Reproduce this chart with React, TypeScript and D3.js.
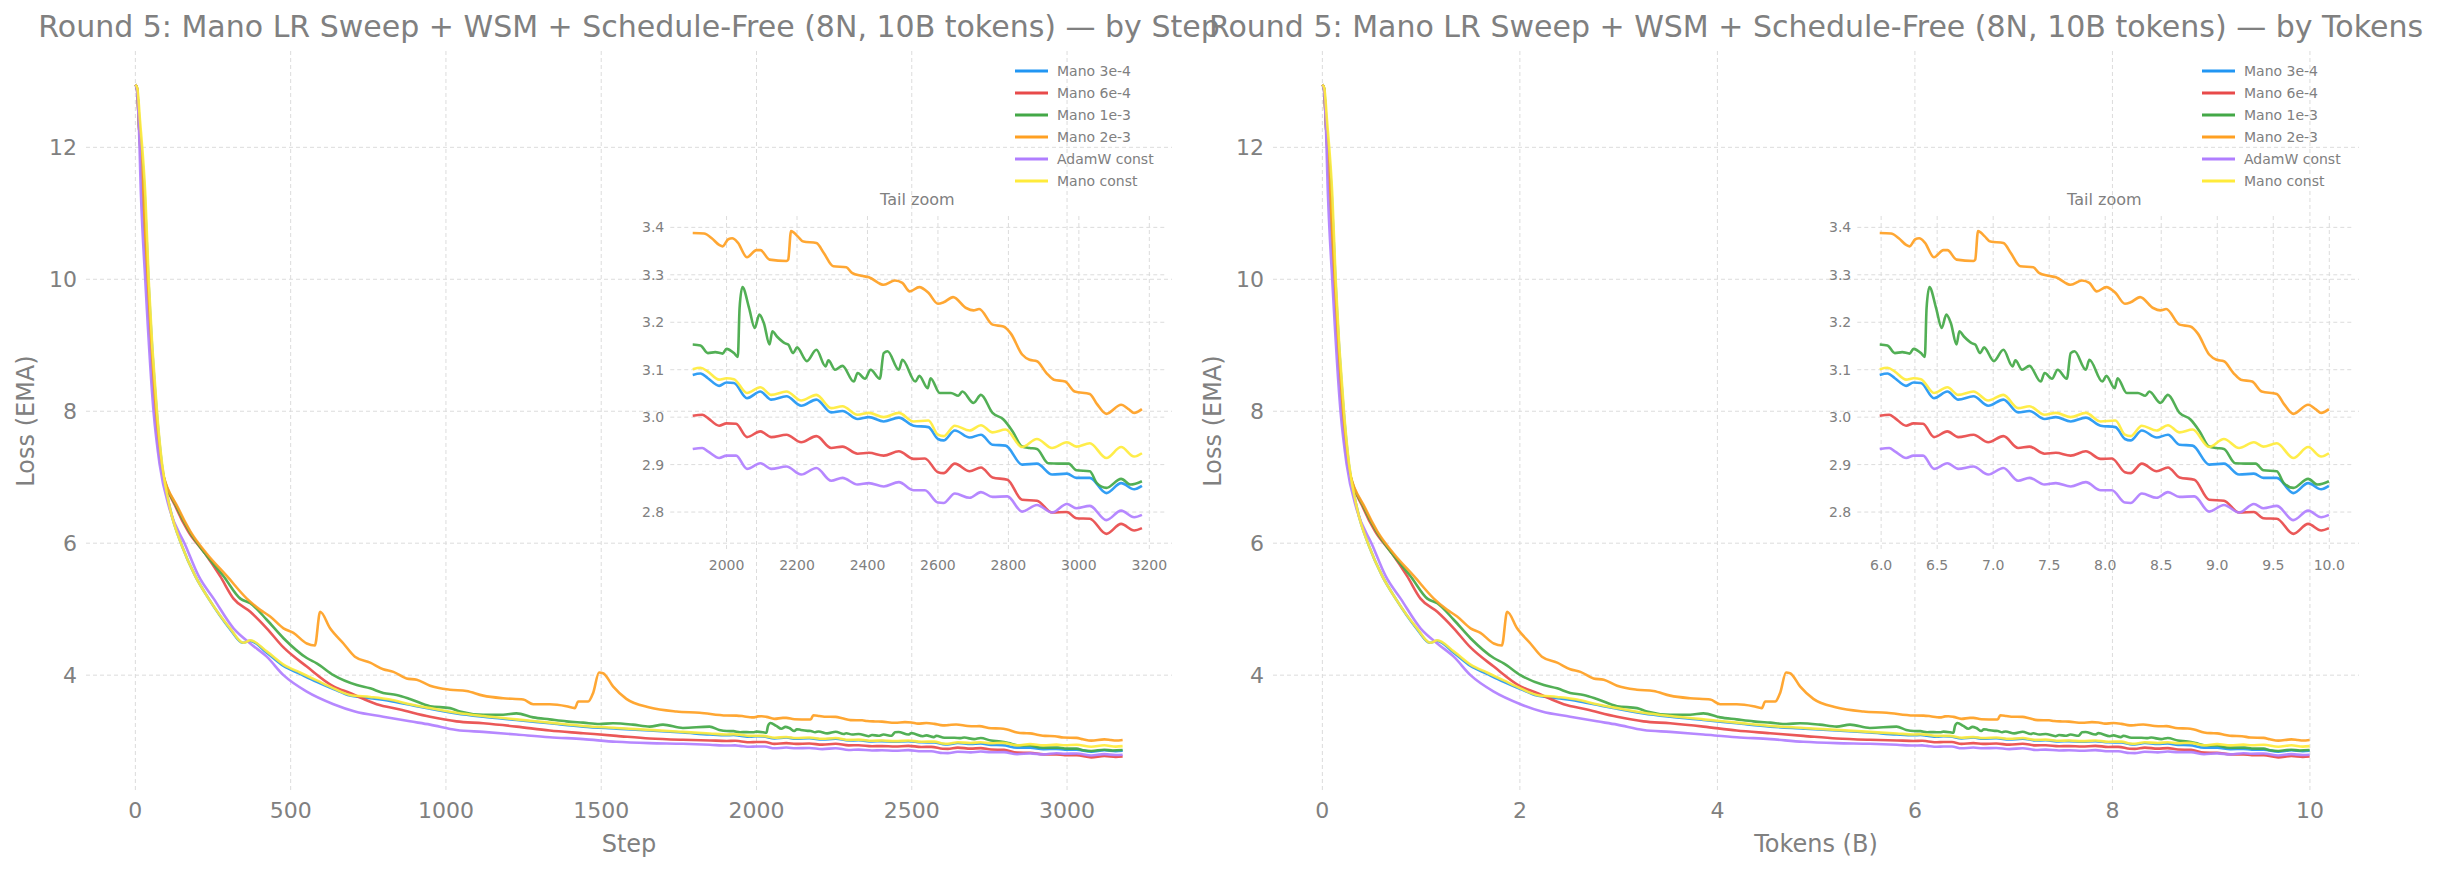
import React from 'react';
import * as d3 from 'd3';

const WIDTH = 2437;
const HEIGHT = 870;
const TOKENS_PER_STEP_B = 10 / 3180; // billions of tokens per optimizer step
const TAIL_START = 1900;

const SERIES_NAMES = ['Mano 3e-4', 'Mano 6e-4', 'Mano 1e-3', 'Mano 2e-3', 'AdamW const', 'Mano const'];
const SERIES_COLORS = ['#2196F3', '#E84A4A', '#43A847', '#FFA022', '#B07EFF', '#FFEB3B'];

// [step, loss EMA]
const mano3e4: [number, number][] = [
  [0, 12.95], [5, 12.9], [14, 12.3], [30, 11.28], [42, 9.98], [69, 7.97], [85, 7.2], [112, 6.52],
  [150, 5.96], [193, 5.5], [236, 5.16], [303, 4.71], [346, 4.49], [370, 4.52], [423, 4.34], [477, 4.14],
  [530, 4.02], [584, 3.9], [638, 3.79], [691, 3.69], [756, 3.65], [820, 3.61], [884, 3.55], [949, 3.49],
  [1034, 3.42], [1120, 3.37], [1227, 3.32], [1334, 3.27], [1442, 3.22], [1549, 3.19], [1656, 3.16], [1763, 3.13],
  [1850, 3.1],
  [1904, 3.089], [1926, 3.092], [1947, 3.082], [1979, 3.066], [2000, 3.073], [2021, 3.072], [2058, 3.04],
  [2096, 3.054], [2127, 3.037], [2170, 3.044], [2212, 3.024], [2255, 3.037], [2297, 3.01], [2329, 3.013],
  [2372, 2.996], [2404, 3.0], [2446, 2.991], [2489, 2.999], [2531, 2.982], [2573, 2.979], [2600, 2.954],
  [2616, 2.951], [2648, 2.972], [2690, 2.957], [2722, 2.963], [2755, 2.942], [2792, 2.94], [2839, 2.9],
  [2881, 2.902], [2924, 2.879], [2966, 2.881], [2993, 2.872], [3031, 2.872], [3078, 2.84], [3120, 2.861],
  [3157, 2.848], [3179, 2.855],
];

const mano6e4: [number, number][] = [
  [0, 12.95], [5, 12.9], [12, 12.3], [25, 11.28], [38, 9.98], [64, 7.97], [82, 7.2], [133, 6.52],
  [170, 6.18], [225, 5.84], [273, 5.5], [316, 5.16], [370, 4.96], [423, 4.71], [477, 4.42], [552, 4.13],
  [638, 3.83], [691, 3.73], [777, 3.56], [852, 3.48], [949, 3.37], [1034, 3.3], [1120, 3.27], [1227, 3.22],
  [1334, 3.16], [1442, 3.12], [1549, 3.08], [1656, 3.04], [1763, 3.02], [1850, 3.01],
  [1904, 3.003], [1931, 3.005], [1947, 2.998], [1979, 2.982], [2000, 2.987], [2027, 2.986], [2058, 2.958],
  [2096, 2.97], [2127, 2.958], [2170, 2.963], [2212, 2.947], [2255, 2.96], [2297, 2.935], [2329, 2.938],
  [2372, 2.923], [2404, 2.925], [2446, 2.919], [2489, 2.928], [2531, 2.912], [2563, 2.913], [2600, 2.884],
  [2616, 2.882], [2648, 2.902], [2690, 2.886], [2722, 2.894], [2755, 2.873], [2797, 2.868], [2839, 2.826],
  [2881, 2.824], [2924, 2.799], [2966, 2.8], [2993, 2.787], [3031, 2.786], [3078, 2.754], [3120, 2.775],
  [3157, 2.761], [3179, 2.766],
];

const mano1e3: [number, number][] = [
  [0, 12.95], [5, 12.9], [12, 12.3], [25, 11.28], [38, 9.98], [64, 7.97], [82, 7.2], [136, 6.52],
  [174, 6.18], [225, 5.84], [284, 5.5], [338, 5.16], [370, 5.09], [423, 4.84], [477, 4.56], [552, 4.26],
  [584, 4.18], [638, 4.0], [713, 3.85], [756, 3.8], [798, 3.73], [841, 3.7], [884, 3.64], [949, 3.53],
  [1013, 3.5], [1045, 3.45], [1120, 3.4], [1184, 3.4], [1227, 3.42], [1281, 3.36], [1334, 3.33],
  [1388, 3.3], [1442, 3.28], [1494, 3.26], [1538, 3.27], [1602, 3.25], [1656, 3.22], [1699, 3.25],
  [1763, 3.2], [1849, 3.22], [1880, 3.17],
  [1904, 3.153], [1926, 3.151], [1947, 3.135], [1968, 3.137], [1989, 3.134], [2000, 3.144], [2021, 3.135],
  [2032, 3.127], [2037, 3.23], [2045, 3.274], [2064, 3.23], [2080, 3.188], [2093, 3.216], [2106, 3.198],
  [2122, 3.153], [2130, 3.181], [2143, 3.17], [2165, 3.156], [2175, 3.153], [2189, 3.135], [2200, 3.147],
  [2228, 3.118], [2255, 3.142], [2281, 3.107], [2289, 3.12], [2308, 3.1], [2329, 3.108], [2361, 3.075],
  [2372, 3.093], [2393, 3.081], [2409, 3.1], [2435, 3.081], [2446, 3.135], [2457, 3.139], [2489, 3.1],
  [2499, 3.121], [2536, 3.075], [2547, 3.087], [2571, 3.061], [2579, 3.082], [2605, 3.051], [2637, 3.051],
  [2658, 3.045], [2669, 3.054], [2701, 3.03], [2722, 3.047], [2755, 3.009], [2786, 2.995], [2812, 2.97],
  [2839, 2.938], [2860, 2.935], [2881, 2.933], [2913, 2.903], [2945, 2.902], [2971, 2.902], [2993, 2.888],
  [3031, 2.886], [3051, 2.861], [3078, 2.851], [3120, 2.87], [3147, 2.858], [3179, 2.865],
];

const mano2e3: [number, number][] = [
  [0, 12.95], [5, 12.9], [12, 12.3], [25, 11.28], [38, 9.98], [64, 7.97], [82, 7.2], [139, 6.52],
  [177, 6.18], [230, 5.84], [295, 5.5], [359, 5.16], [402, 4.99], [434, 4.89], [477, 4.71], [509, 4.64],
  [552, 4.48], [578, 4.45], [595, 4.96], [627, 4.71], [670, 4.48], [707, 4.28], [756, 4.19], [798, 4.09],
  [831, 4.05], [873, 3.95], [906, 3.93], [949, 3.84], [1013, 3.78], [1066, 3.76], [1120, 3.69],
  [1184, 3.65], [1249, 3.63], [1281, 3.56], [1334, 3.56], [1388, 3.53], [1415, 3.5], [1426, 3.6],
  [1458, 3.6], [1474, 3.73], [1493, 4.04], [1506, 4.03], [1538, 3.83], [1581, 3.64], [1656, 3.51],
  [1742, 3.45], [1817, 3.43],
  [1904, 3.388], [1936, 3.387], [1958, 3.377], [1979, 3.363], [1989, 3.36], [2005, 3.375], [2016, 3.377],
  [2032, 3.368], [2058, 3.337], [2085, 3.352], [2096, 3.352], [2122, 3.332], [2170, 3.329], [2175, 3.332],
  [2183, 3.392], [2202, 3.381], [2218, 3.37], [2255, 3.367], [2276, 3.346], [2303, 3.318], [2340, 3.316],
  [2356, 3.304], [2382, 3.298], [2404, 3.295], [2446, 3.279], [2478, 3.288], [2499, 3.283], [2520, 3.265],
  [2547, 3.274], [2573, 3.262], [2600, 3.239], [2616, 3.242], [2643, 3.253], [2680, 3.23], [2701, 3.225],
  [2717, 3.228], [2755, 3.195], [2786, 3.191], [2807, 3.176], [2839, 3.132], [2860, 3.121], [2881, 3.118],
  [2908, 3.093], [2929, 3.079], [2961, 3.075], [2988, 3.054], [3031, 3.049], [3051, 3.028], [3078, 3.007],
  [3120, 3.026], [3141, 3.017], [3157, 3.009], [3179, 3.017],
];

const adamwConst: [number, number][] = [
  [0, 12.95], [4, 12.9], [10, 12.5], [18, 11.28], [32, 9.98], [59, 7.97], [78, 7.2], [110, 6.52],
  [161, 5.97], [204, 5.5], [252, 5.16], [316, 4.71], [370, 4.48], [423, 4.28], [477, 4.0], [552, 3.75],
  [638, 3.56], [707, 3.45], [798, 3.37], [884, 3.3], [949, 3.25], [1034, 3.17], [1120, 3.14], [1227, 3.1],
  [1334, 3.06], [1442, 3.03], [1549, 2.99], [1656, 2.97], [1763, 2.96], [1850, 2.945],
  [1904, 2.933], [1931, 2.935], [1947, 2.928], [1979, 2.914], [2000, 2.919], [2027, 2.919], [2058, 2.891],
  [2096, 2.903], [2127, 2.891], [2170, 2.896], [2212, 2.879], [2255, 2.893], [2297, 2.866], [2329, 2.872],
  [2372, 2.858], [2404, 2.861], [2446, 2.854], [2489, 2.863], [2531, 2.846], [2563, 2.846], [2600, 2.82],
  [2616, 2.819], [2648, 2.839], [2690, 2.83], [2722, 2.842], [2755, 2.832], [2797, 2.833], [2839, 2.801],
  [2881, 2.815], [2924, 2.799], [2966, 2.817], [2993, 2.808], [3031, 2.813], [3078, 2.783], [3120, 2.803],
  [3157, 2.789], [3179, 2.794],
];

const manoConst: [number, number][] = [
  [0, 12.95], [6, 12.9], [15, 12.4], [32, 11.28], [43, 9.98], [70, 7.97], [86, 7.2], [112, 6.52],
  [150, 5.96], [193, 5.5], [236, 5.16], [305, 4.71], [348, 4.49], [370, 4.53], [423, 4.36], [477, 4.16],
  [530, 4.04], [584, 3.92], [638, 3.8], [691, 3.7], [756, 3.67], [820, 3.63], [884, 3.56], [949, 3.5],
  [1034, 3.43], [1120, 3.38], [1227, 3.33], [1334, 3.28], [1442, 3.23], [1549, 3.2], [1656, 3.17],
  [1763, 3.14], [1850, 3.115],
  [1904, 3.101], [1926, 3.104], [1947, 3.096], [1979, 3.079], [2000, 3.082], [2021, 3.08], [2058, 3.051],
  [2096, 3.063], [2127, 3.047], [2170, 3.054], [2212, 3.035], [2255, 3.047], [2297, 3.019], [2329, 3.023],
  [2372, 3.005], [2404, 3.009], [2446, 3.0], [2489, 3.009], [2531, 2.991], [2573, 2.993], [2600, 2.963],
  [2616, 2.96], [2648, 2.982], [2690, 2.972], [2722, 2.983], [2755, 2.968], [2792, 2.974], [2839, 2.937],
  [2881, 2.954], [2924, 2.935], [2966, 2.947], [2993, 2.938], [3031, 2.945], [3078, 2.914], [3120, 2.937],
  [3157, 2.917], [3179, 2.924],
];

const SERIES_DATA = [mano3e4, mano6e4, mano1e3, mano2e3, adamwConst, manoConst];

const STEP_TICKS = [0, 500, 1000, 1500, 2000, 2500, 3000];
const TOKEN_TICKS = [0, 2, 4, 6, 8, 10];
const LOSS_TICKS = [4, 6, 8, 10, 12];
const INSET_STEP_TICKS = [2000, 2200, 2400, 2600, 2800, 3000, 3200];
const INSET_TOKEN_TICKS = [6, 6.5, 7, 7.5, 8, 8.5, 9, 9.5, 10];
const INSET_LOSS_TICKS = [2.8, 2.9, 3.0, 3.1, 3.2, 3.3, 3.4];

const TEXT = '#808080';
const GRID = '#dcdcdc';
const FONT = 'DejaVu Sans, sans-serif';

function padded(ext: [number, number]): [number, number] {
  const pad = (ext[1] - ext[0]) * 0.05;
  return [ext[0] - pad, ext[1] + pad];
}

type Box = { x: number; y: number; w: number; h: number };

function Panel({ box, useTokens, title, xLabel, xTicks, insetTicks, insetFmt, id }: {
  box: Box; useTokens: boolean; title: string; xLabel: string;
  xTicks: number[]; insetTicks: number[]; insetFmt: (v: number) => string; id: string;
}) {
  const toX = (s: number) => (useTokens ? s * TOKENS_PER_STEP_B : s);
  const all = SERIES_DATA.flat();
  const x = d3.scaleLinear().domain(padded(d3.extent(all, (d) => toX(d[0])) as [number, number])).range([box.x, box.x + box.w]);
  const y = d3.scaleLinear().domain(padded(d3.extent(all, (d) => d[1]) as [number, number])).range([box.y + box.h, box.y]);

  // tail zoom inset
  const ib: Box = { x: box.x + 0.538 * box.w, y: box.y + 0.223 * box.h, w: 0.455 * box.w, h: 0.45 * box.h };
  const tail = SERIES_DATA.map((s) => s.filter((d) => d[0] >= TAIL_START));
  const tailAll = tail.flat();
  const ix = d3.scaleLinear().domain(padded(d3.extent(tailAll, (d) => toX(d[0])) as [number, number])).range([ib.x, ib.x + ib.w]);
  const iy = d3.scaleLinear().domain(padded(d3.extent(tailAll, (d) => d[1]) as [number, number])).range([ib.y + ib.h, ib.y]);

  const line = d3.line<[number, number]>().x((d) => x(toX(d[0]))).y((d) => y(d[1])).curve(d3.curveMonotoneX);
  const iline = d3.line<[number, number]>().x((d) => ix(toX(d[0]))).y((d) => iy(d[1])).curve(d3.curveMonotoneX);

  const right = box.x + box.w;
  const bottom = box.y + box.h;

  return (
    <g>
      <defs>
        <clipPath id={`clip-${id}`}><rect x={box.x} y={box.y} width={box.w} height={box.h} /></clipPath>
        <clipPath id={`iclip-${id}`}><rect x={ib.x} y={ib.y} width={ib.w} height={ib.h} /></clipPath>
      </defs>
      {/* main grid */}
      {xTicks.map((t) => (
        <line key={`gx${t}`} x1={x(t)} x2={x(t)} y1={box.y} y2={bottom} stroke={GRID} strokeWidth={1} strokeDasharray="4,3" />
      ))}
      {LOSS_TICKS.map((t) => (
        <line key={`gy${t}`} x1={box.x} x2={right} y1={y(t)} y2={y(t)} stroke={GRID} strokeWidth={1} strokeDasharray="4,3" />
      ))}
      {/* main ticks */}
      {xTicks.map((t) => (
        <text key={`tx${t}`} x={x(t)} y={bottom + 19} dy="0.35em" textAnchor="middle" fontSize={22} fill={TEXT}>{t}</text>
      ))}
      {LOSS_TICKS.map((t) => (
        <text key={`ty${t}`} x={box.x - 9} y={y(t)} dy="0.35em" textAnchor="end" fontSize={22} fill={TEXT}>{t}</text>
      ))}
      <text x={box.x + box.w / 2} y={bottom + 53} dy="0.35em" textAnchor="middle" fontSize={24} fill={TEXT}>{xLabel}</text>
      <text transform={`translate(${box.x - 60},${box.y + box.h / 2}) rotate(-90)`} dy="0.35em" textAnchor="middle" fontSize={24} fill={TEXT}>Loss (EMA)</text>
      <text x={box.x + box.w / 2} y={26} dy="0.35em" textAnchor="middle" fontSize={30} fill={TEXT}>{title}</text>
      {/* main lines */}
      <g clipPath={`url(#clip-${id})`}>
        {SERIES_DATA.map((s, i) => (
          <path key={i} d={line(s) ?? ''} fill="none" stroke={SERIES_COLORS[i]} strokeWidth={2.6} strokeOpacity={0.92} strokeLinejoin="round" />
        ))}
      </g>
      {/* legend */}
      {SERIES_NAMES.map((n, i) => (
        <g key={n}>
          <line x1={right - 157} x2={right - 124} y1={box.y + 20 + i * 22} y2={box.y + 20 + i * 22} stroke={SERIES_COLORS[i]} strokeWidth={3} />
          <text x={right - 115} y={box.y + 20 + i * 22} dy="0.35em" fontSize={14} fill={TEXT}>{n}</text>
        </g>
      ))}
      {/* inset */}
      {insetTicks.map((t) => (
        <line key={`igx${t}`} x1={ix(t)} x2={ix(t)} y1={ib.y} y2={ib.y + ib.h} stroke={GRID} strokeWidth={1} strokeDasharray="4,3" />
      ))}
      {INSET_LOSS_TICKS.map((t) => (
        <line key={`igy${t}`} x1={ib.x} x2={ib.x + ib.w} y1={iy(t)} y2={iy(t)} stroke={GRID} strokeWidth={1} strokeDasharray="4,3" />
      ))}
      {insetTicks.map((t) => (
        <text key={`itx${t}`} x={ix(t)} y={ib.y + ib.h + 16} dy="0.35em" textAnchor="middle" fontSize={14} fill={TEXT}>{insetFmt(t)}</text>
      ))}
      {INSET_LOSS_TICKS.map((t) => (
        <text key={`ity${t}`} x={ib.x - 6} y={iy(t)} dy="0.35em" textAnchor="end" fontSize={14} fill={TEXT}>{t.toFixed(1)}</text>
      ))}
      <text x={ib.x + ib.w / 2} y={ib.y - 17} dy="0.35em" textAnchor="middle" fontSize={16} fill={TEXT}>Tail zoom</text>
      <g clipPath={`url(#iclip-${id})`}>
        {tail.map((s, i) => (
          <path key={i} d={iline(s) ?? ''} fill="none" stroke={SERIES_COLORS[i]} strokeWidth={2.6} strokeOpacity={0.92} strokeLinejoin="round" />
        ))}
      </g>
    </g>
  );
}

export default function App() {
  const top = 51;
  const h = 740;
  const w = 1086;
  return (
    <svg width={WIDTH} height={HEIGHT} style={{ position: 'absolute', left: 0, top: 0, background: '#fff' }} fontFamily={FONT}>
      <rect width={WIDTH} height={HEIGHT} fill="#fff" />
      <Panel id="step" box={{ x: 86, y: top, w, h }} useTokens={false}
        title="Round 5: Mano LR Sweep + WSM + Schedule-Free (8N, 10B tokens) — by Step"
        xLabel="Step" xTicks={STEP_TICKS} insetTicks={INSET_STEP_TICKS} insetFmt={(v) => String(v)} />
      <Panel id="tok" box={{ x: 1273, y: top, w, h }} useTokens={true}
        title="Round 5: Mano LR Sweep + WSM + Schedule-Free (8N, 10B tokens) — by Tokens"
        xLabel="Tokens (B)" xTicks={TOKEN_TICKS} insetTicks={INSET_TOKEN_TICKS} insetFmt={(v) => v.toFixed(1)} />
    </svg>
  );
}
